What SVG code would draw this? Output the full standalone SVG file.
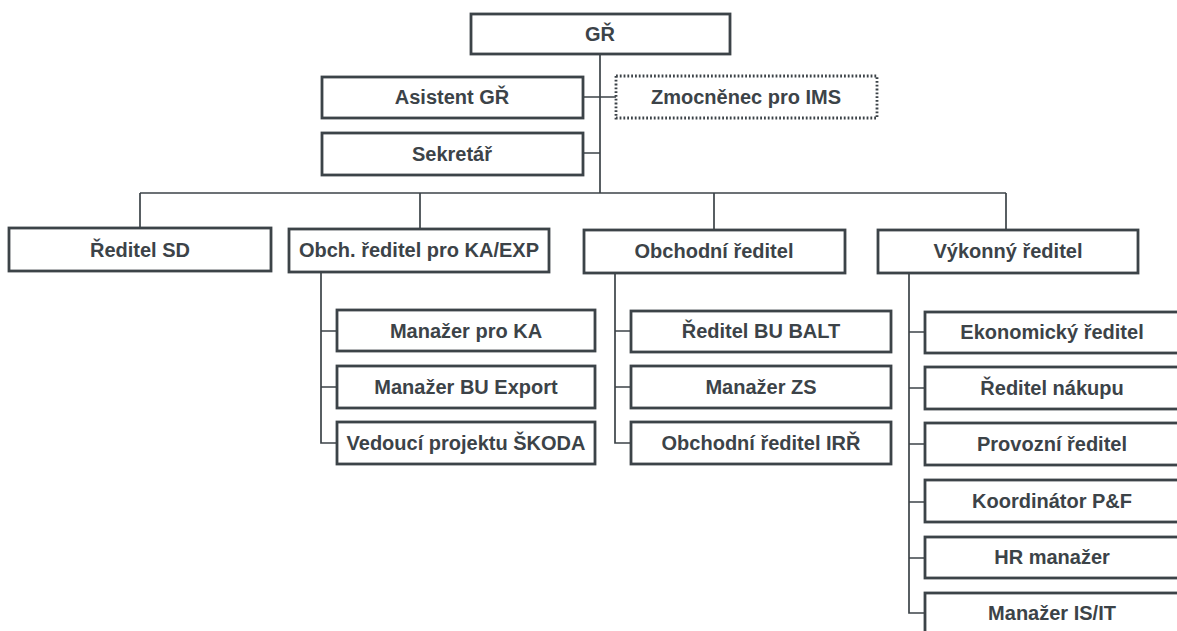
<svg xmlns="http://www.w3.org/2000/svg" width="1177" height="631" viewBox="0 0 1177 631">
<style>
.b{fill:#fff;stroke:#3c4348;stroke-width:2.8}
.d{fill:#fff;stroke:#3c4348;stroke-width:2.8;stroke-dasharray:1.8 2}
.t{font-family:"Liberation Sans",Arial,sans-serif;font-weight:bold;font-size:20px;fill:#3c4348;text-anchor:middle;dominant-baseline:central}
.c{fill:none;stroke:#3c4348;stroke-width:1.7}
</style>
<rect width="1177" height="631" fill="#fff"/>
<g id="connectors">
<path class="c" d="M600 54V193M583 97H616M583 153H600"/>
<path class="c" d="M140 193H1006M140 193V228M420 193V230M714 193V230M1006 193V230"/>
<path class="c" d="M321 272V443H337M321 331H337M321 387H337"/>
<path class="c" d="M615 272V443H631M615 331H631M615 387H631"/>
<path class="c" d="M909 273V613H925M909 332H925M909 388H925M909 444H925M909 502H925M909 558H925"/>
</g>
<g id="gr"><rect class="b" x="471" y="14" width="259" height="40"/><text class="t" x="600" y="34">GŘ</text></g>
<g id="asistent"><rect class="b" x="322" y="77" width="261" height="41"/><text class="t" x="452" y="97">Asistent GŘ</text></g>
<g id="zmocnenec"><rect class="d" x="616" y="76" width="261" height="42"/><text class="t" x="746" y="97">Zmocněnec pro IMS</text></g>
<g id="sekretar"><rect class="b" x="322" y="133" width="261" height="42"/><text class="t" x="452" y="154">Sekretář</text></g>
<g id="reditel-sd"><rect class="b" x="9" y="228" width="262" height="43"/><text class="t" x="140" y="250">Ředitel SD</text></g>
<g id="obch-ka-exp"><rect class="b" x="289" y="229" width="260" height="43"/><text class="t" x="419" y="250">Obch. ředitel pro KA/EXP</text></g>
<g id="obchodni"><rect class="b" x="584" y="230" width="261" height="43"/><text class="t" x="714" y="251">Obchodní ředitel</text></g>
<g id="vykonny"><rect class="b" x="878" y="230" width="260" height="43"/><text class="t" x="1008" y="251">Výkonný ředitel</text></g>
<g id="manazer-ka"><rect class="b" x="337" y="310" width="258" height="41"/><text class="t" x="466" y="331">Manažer pro KA</text></g>
<g id="manazer-bu-export"><rect class="b" x="337" y="366" width="258" height="42"/><text class="t" x="466" y="387">Manažer BU Export</text></g>
<g id="vedouci-skoda"><rect class="b" x="337" y="422" width="258" height="42"/><text class="t" x="466" y="443">Vedoucí projektu ŠKODA</text></g>
<g id="reditel-bu-balt"><rect class="b" x="631" y="311" width="260" height="41"/><text class="t" x="761" y="331">Ředitel BU BALT</text></g>
<g id="manazer-zs"><rect class="b" x="631" y="366" width="260" height="42"/><text class="t" x="761" y="387">Manažer ZS</text></g>
<g id="obchodni-irr"><rect class="b" x="631" y="422" width="260" height="42"/><text class="t" x="761" y="443">Obchodní ředitel IRŘ</text></g>
<g id="ekonomicky"><rect class="b" x="925" y="312" width="262" height="41"/><text class="t" x="1052" y="332">Ekonomický ředitel</text></g>
<g id="nakupu"><rect class="b" x="925" y="367" width="262" height="42"/><text class="t" x="1052" y="388">Ředitel nákupu</text></g>
<g id="provozni"><rect class="b" x="925" y="423" width="262" height="42"/><text class="t" x="1052" y="444">Provozní ředitel</text></g>
<g id="koordinator"><rect class="b" x="925" y="480" width="262" height="42"/><text class="t" x="1052" y="501">Koordinátor P&amp;F</text></g>
<g id="hr"><rect class="b" x="925" y="537" width="262" height="41"/><text class="t" x="1052" y="557">HR manažer</text></g>
<g id="is-it"><rect class="b" x="925" y="593" width="262" height="50"/><text class="t" x="1052" y="613">Manažer IS/IT</text></g>
</svg>
